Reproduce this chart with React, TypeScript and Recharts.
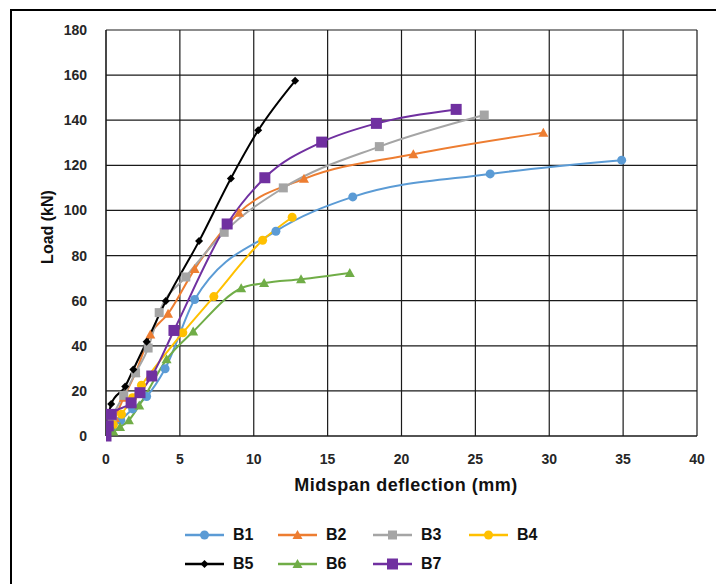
import { CartesianGrid, Line, LineChart, XAxis, YAxis } from "recharts";

// Midspan deflection (mm) / load (kN)
const b1X = [0, 0.4, 1.0, 1.8, 2.75, 4.0, 6.0, 11.5, 16.7, 26.0, 34.9];
const b1Y = [0, 3, 7, 12, 17.5, 29.8, 60.5, 90.8, 106, 116.2, 122.3];

const b2X = [0, 0.3, 0.6, 1.2, 2.0, 3.0, 4.2, 6.0, 9.0, 13.4, 20.8, 29.6];
const b2Y = [0, 4, 8, 17, 28, 45, 54.2, 74, 99, 114, 124.9, 134.5];

const b3X = [0, 0.4, 1.2, 2.0, 2.85, 3.6, 5.4, 8.0, 12.0, 18.5, 25.6];
const b3Y = [0, 8, 18, 28, 39, 54.7, 70.5, 90.3, 110, 128.3, 142.3];

const b4X = [0, 0.5, 1.05, 1.8, 2.4, 5.2, 7.3, 10.6, 12.6];
const b4Y = [0, 5, 9.6, 17, 22.5, 45.8, 61.8, 86.8, 97];

const b5X = [0, 0.35, 1.3, 1.85, 2.75, 4.05, 6.3, 8.45, 10.3, 12.8];
const b5Y = [0, 14.2, 22, 29.5, 41.8, 59.8, 86.4, 114.2, 135.5, 157.5];

const b6X = [0, 0.5, 0.95, 1.55, 2.25, 4.1, 5.9, 9.15, 10.7, 13.2, 16.5];
const b6Y = [0, 2, 4, 7, 13.5, 34, 46.3, 65.5, 67.8, 69.5, 72.3];

const b7X = [0, 0.15, 0.35, 1.7, 2.3, 3.1, 4.6, 8.2, 10.75, 14.6, 18.3, 23.7];
const b7Y = [0, 4.5, 9.6, 14.7, 19.2, 26.6, 46.8, 94, 114.5, 130.3, 138.6, 144.8];

const xTicks = [0, 5, 10, 15, 20, 25, 30, 35, 40];
const yTicks = [0, 20, 40, 60, 80, 100, 120, 140, 160, 180];

type Shape = "circle" | "triangle" | "square" | "diamond";

const series = [
  { name: "B1", xs: b1X, ys: b1Y, color: "#5B9BD5", shape: "circle" as Shape, size: 9 },
  { name: "B2", xs: b2X, ys: b2Y, color: "#ED7D31", shape: "triangle" as Shape, size: 10 },
  { name: "B3", xs: b3X, ys: b3Y, color: "#A5A5A5", shape: "square" as Shape, size: 9 },
  { name: "B4", xs: b4X, ys: b4Y, color: "#FFC000", shape: "circle" as Shape, size: 9 },
  { name: "B5", xs: b5X, ys: b5Y, color: "#000000", shape: "diamond" as Shape, size: 8 },
  { name: "B6", xs: b6X, ys: b6Y, color: "#70AD47", shape: "triangle" as Shape, size: 10 },
  { name: "B7", xs: b7X, ys: b7Y, color: "#7030A0", shape: "square" as Shape, size: 11 },
];

const FONT = "'Liberation Sans', Arial, sans-serif";

function Marker({ cx, cy, shape, size, color }: { cx: number; cy: number; shape: Shape; size: number; color: string }) {
  const h = size / 2;
  if (shape === "circle") return <circle cx={cx} cy={cy} r={h} fill={color} />;
  if (shape === "square") return <rect x={cx - h} y={cy - h} width={size} height={size} fill={color} />;
  if (shape === "diamond")
    return <polygon points={`${cx},${cy - h} ${cx + h},${cy} ${cx},${cy + h} ${cx - h},${cy}`} fill={color} />;
  return <polygon points={`${cx},${cy - h} ${cx + h},${cy + h * 0.8} ${cx - h},${cy + h * 0.8}`} fill={color} />;
}

function dotFor(shape: Shape, size: number, color: string) {
  return (props: any) => {
    const { cx, cy, index } = props;
    if (cx == null || cy == null) return <g key={index} />;
    return (
      <g key={index}>
        <Marker cx={cx} cy={cy} shape={shape} size={size} color={color} />
      </g>
    );
  };
}

// legend positions (two rows, like the Excel legend)
const legendCols = [185, 278, 373, 469];

export default function App() {
  return (
    <div
      style={{
        position: "absolute",
        left: 0,
        top: 0,
        width: 716,
        height: 584,
        overflow: "hidden",
        background: "#fff",
        fontFamily: FONT,
      }}
    >
      <div
        style={{
          position: "absolute",
          left: 10,
          top: 9,
          width: 800,
          height: 700,
          border: "2px solid #000",
        }}
      />
      <LineChart width={716} height={584} margin={{ top: 30, right: 19, left: 56, bottom: 118 }}>
        <CartesianGrid stroke="#1a1a1a" strokeWidth={1.2} />
        <XAxis
          type="number"
          dataKey="x"
          domain={[0, 40]}
          ticks={xTicks}
          interval={0}
          height={30}
          tickLine={false}
          axisLine={{ stroke: "#1a1a1a" }}
          tickMargin={12}
          tick={{ fontSize: 14, fontWeight: 700, fill: "#262626", fontFamily: FONT }}
          allowDataOverflow
        />
        <YAxis
          type="number"
          domain={[0, 180]}
          ticks={yTicks}
          interval={0}
          width={50}
          tickLine={false}
          axisLine={{ stroke: "#1a1a1a" }}
          tickMargin={13}
          tick={{ fontSize: 14, fontWeight: 700, fill: "#262626", fontFamily: FONT }}
        />
        {series.map((s) => (
          <Line
            key={s.name}
            name={s.name}
            data={s.xs.map((x, i) => ({ x, y: s.ys[i] }))}
            dataKey="y"
            type="monotone"
            stroke={s.color}
            strokeWidth={2}
            dot={dotFor(s.shape, s.size, s.color)}
            activeDot={false}
            isAnimationActive={false}
          />
        ))}
      </LineChart>
      <div
        style={{
          position: "absolute",
          left: 48,
          top: 227,
          transform: "translate(-50%, -50%) rotate(-90deg)",
          fontSize: 16,
          fontWeight: 700,
          color: "#111",
          whiteSpace: "nowrap",
        }}
      >
        Load (kN)
      </div>
      <div
        style={{
          position: "absolute",
          left: 406,
          top: 485,
          transform: "translate(-50%, -50%)",
          fontSize: 18,
          fontWeight: 700,
          letterSpacing: 0.5,
          color: "#111",
          whiteSpace: "nowrap",
        }}
      >
        Midspan deflection (mm)
      </div>
      {series.map((s, i) => {
        const left = legendCols[i % 4];
        const top = i < 4 ? 535 : 564;
        return (
          <div key={s.name} style={{ position: "absolute", left, top: top - 10, height: 20, display: "flex", alignItems: "center" }}>
            <svg width={40} height={20}>
              <line x1={0} y1={10} x2={39} y2={10} stroke={s.color} strokeWidth={2.5} />
              <Marker cx={19.5} cy={10} shape={s.shape} size={s.size} color={s.color} />
            </svg>
            <span style={{ marginLeft: 8, fontSize: 16, fontWeight: 700, color: "#111" }}>{s.name}</span>
          </div>
        );
      })}
    </div>
  );
}
